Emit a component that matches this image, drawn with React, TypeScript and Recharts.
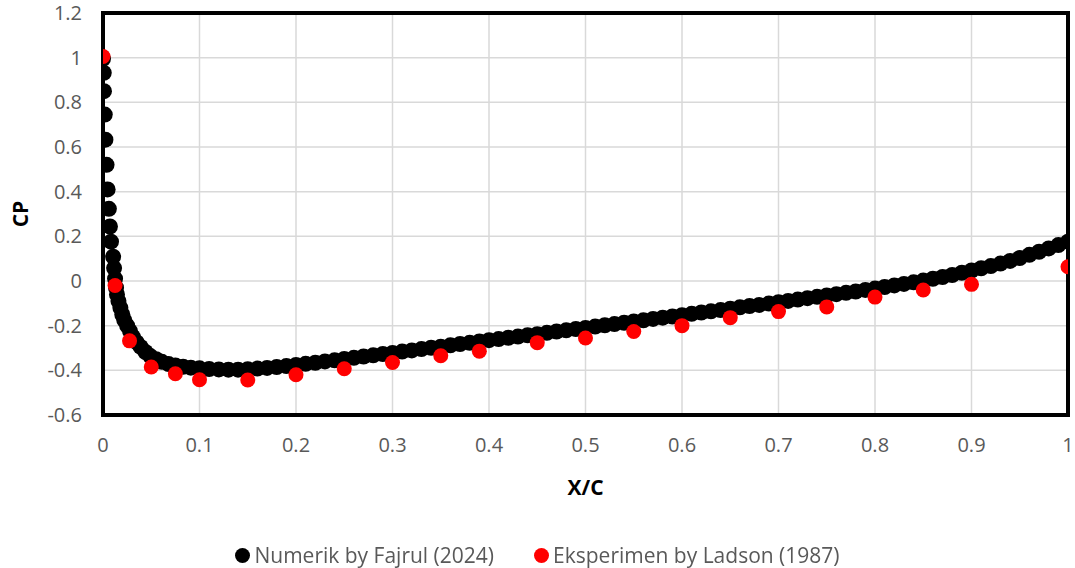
import React from 'react'
import {
  ScatterChart,
  Scatter,
  XAxis,
  YAxis,
  CartesianGrid,
  ReferenceArea,
  Label,
} from 'recharts'

// Numerik (Fajrul 2024): x/c and Cp along the upper surface
const numX = [
  0, 0.0008, 0.001, 0.0018, 0.0025, 0.0037, 0.0048, 0.0061, 0.0072, 0.0083,
  0.0105, 0.0115, 0.0125, 0.0135, 0.0145, 0.016, 0.018, 0.02, 0.022, 0.025,
  0.028, 0.031, 0.035, 0.039, 0.044, 0.049, 0.055, 0.061, 0.068, 0.075,
  0.083, 0.091, 0.1, 0.11, 0.12, 0.13, 0.14, 0.15, 0.16, 0.17,
  0.18, 0.19, 0.2, 0.21, 0.22, 0.23, 0.24, 0.25, 0.26, 0.27,
  0.28, 0.29, 0.3, 0.31, 0.32, 0.33, 0.34, 0.35, 0.36, 0.37,
  0.38, 0.39, 0.4, 0.41, 0.42, 0.43, 0.44, 0.45, 0.46, 0.47,
  0.48, 0.49, 0.5, 0.51, 0.52, 0.53, 0.54, 0.55, 0.56, 0.57,
  0.58, 0.59, 0.6, 0.61, 0.62, 0.63, 0.64, 0.65, 0.66, 0.67,
  0.68, 0.69, 0.7, 0.71, 0.72, 0.73, 0.74, 0.75, 0.76, 0.77,
  0.78, 0.79, 0.8, 0.81, 0.82, 0.83, 0.84, 0.85, 0.86, 0.87,
  0.88, 0.89, 0.9, 0.91, 0.92, 0.93, 0.94, 0.95, 0.96, 0.97,
  0.98, 0.99, 1.0,
]
const numCp = [
  0.995, 0.932, 0.85, 0.745, 0.633, 0.52, 0.41, 0.323, 0.244, 0.176,
  0.109, 0.058, 0.01, -0.03, -0.06, -0.09, -0.12, -0.15, -0.175, -0.2,
  -0.225, -0.25, -0.275, -0.295, -0.318, -0.336, -0.35, -0.362, -0.372, -0.378,
  -0.384, -0.388, -0.391, -0.394, -0.396, -0.397, -0.397, -0.395, -0.392, -0.389,
  -0.385, -0.381, -0.376, -0.371, -0.366, -0.36, -0.355, -0.349, -0.344, -0.338,
  -0.333, -0.327, -0.322, -0.316, -0.311, -0.305, -0.299, -0.294, -0.288, -0.282,
  -0.277, -0.271, -0.265, -0.26, -0.254, -0.249, -0.243, -0.238, -0.232, -0.226,
  -0.221, -0.215, -0.21, -0.204, -0.198, -0.193, -0.187, -0.181, -0.176, -0.17,
  -0.164, -0.159, -0.153, -0.147, -0.141, -0.136, -0.13, -0.124, -0.118, -0.112,
  -0.107, -0.101, -0.095, -0.089, -0.083, -0.077, -0.071, -0.065, -0.059, -0.053,
  -0.047, -0.04, -0.034, -0.027, -0.02, -0.013, -0.006, 0.002, 0.01, 0.018,
  0.027, 0.037, 0.047, 0.057, 0.067, 0.078, 0.09, 0.103, 0.117, 0.131,
  0.146, 0.161, 0.176,
]

// Eksperimen (Ladson 1987)
const expX = [
  0, 0.0125, 0.0275, 0.05, 0.075, 0.1, 0.15, 0.2, 0.25, 0.3, 0.35, 0.39,
  0.45, 0.5, 0.55, 0.6, 0.65, 0.7, 0.75, 0.8, 0.85, 0.9, 1.0,
]
const expCp = [
  1.005, -0.02, -0.268, -0.385, -0.415, -0.442, -0.443, -0.42, -0.393, -0.365, -0.335, -0.314,
  -0.276, -0.255, -0.226, -0.2, -0.164, -0.137, -0.116, -0.072, -0.04, -0.015, 0.064,
]

const xTicks = [0, 0.1, 0.2, 0.3, 0.4, 0.5, 0.6, 0.7, 0.8, 0.9, 1]
const yTicks = [-0.6, -0.4, -0.2, 0, 0.2, 0.4, 0.6, 0.8, 1, 1.2]

const numData = numX.map((x, i) => ({ x, cp: numCp[i] }))
const expData = expX.map((x, i) => ({ x, cp: expCp[i] }))

const FONT = '"Open Sans", "Noto Sans", sans-serif'
const GREY = '#595959'

const blackDot = (p: any) => <circle cx={p.cx} cy={p.cy} r={8} fill="#000" />
const redDot = (p: any) => <circle cx={p.cx} cy={p.cy} r={7.5} fill="#ff0000" />

export default function App() {
  return (
    <div style={{ position: 'fixed', left: 0, top: 0, width: 1075, height: 568, background: '#fff', fontFamily: FONT }}>
      <ScatterChart
        width={1075}
        height={568}
        margin={{ top: 13, right: 7, bottom: 53, left: 0 }}
      >
        <CartesianGrid stroke="#d9d9d9" strokeWidth={1.5} />
        <XAxis
          type="number"
          dataKey="x"
          domain={[0, 1]}
          ticks={xTicks}
          allowDataOverflow
          axisLine={false}
          tickLine={false}
          tickSize={0}
          tickMargin={23}
          height={100}
          tick={{ fill: GREY, fontSize: 20, fontFamily: FONT }}
        >
          <Label
            content={({ viewBox }: any) => (
              <text
                x={viewBox.x + viewBox.width / 2}
                y={viewBox.y + 72}
                textAnchor="middle"
                dominantBaseline="central"
                fontSize={21}
                fontWeight="bold"
                fontFamily={FONT}
                fill="#000"
              >
                X/C
              </text>
            )}
          />
        </XAxis>
        <YAxis
          type="number"
          dataKey="cp"
          domain={[-0.6, 1.2]}
          ticks={yTicks}
          allowDataOverflow
          axisLine={false}
          tickLine={false}
          tickSize={0}
          tickMargin={21}
          width={103}
          tick={{ fill: GREY, fontSize: 20, fontFamily: FONT }}
        >
          <Label
            content={({ viewBox }: any) => {
              const cx = viewBox.x + 20
              const cy = viewBox.y + viewBox.height / 2
              return (
                <text
                  x={cx}
                  y={cy}
                  transform={`rotate(-90, ${cx}, ${cy})`}
                  textAnchor="middle"
                  dominantBaseline="central"
                  fontSize={21}
                  fontWeight="bold"
                  fontFamily={FONT}
                  fill="#000"
                >
                  CP
                </text>
              )
            }}
          />
        </YAxis>
        <ReferenceArea
          x1={0}
          x2={1}
          y1={-0.6}
          y2={1.2}
          fill="none"
          stroke="#000"
          strokeWidth={4}
          ifOverflow="visible"
        />
        <Scatter
          name="Numerik by Fajrul (2024)"
          data={numData}
          shape={blackDot}
          isAnimationActive={false}
        />
        <Scatter
          name="Eksperimen by Ladson (1987)"
          data={expData}
          shape={redDot}
          isAnimationActive={false}
        />
      </ScatterChart>
      <div
        style={{
          position: 'absolute',
          top: 542,
          left: 0,
          width: 1075,
          display: 'flex',
          justifyContent: 'center',
          gap: 40,
          fontSize: 21,
          color: GREY,
          lineHeight: '26px',
        }}
      >
        <span style={{ display: 'flex', alignItems: 'center', gap: 4 }}>
          <span style={{ width: 15, height: 15, borderRadius: 8, background: '#000', display: 'inline-block' }} />
          Numerik by Fajrul (2024)
        </span>
        <span style={{ display: 'flex', alignItems: 'center', gap: 4 }}>
          <span style={{ width: 15, height: 15, borderRadius: 8, background: '#ff0000', display: 'inline-block' }} />
          Eksperimen by Ladson (1987)
        </span>
      </div>
    </div>
  )
}
